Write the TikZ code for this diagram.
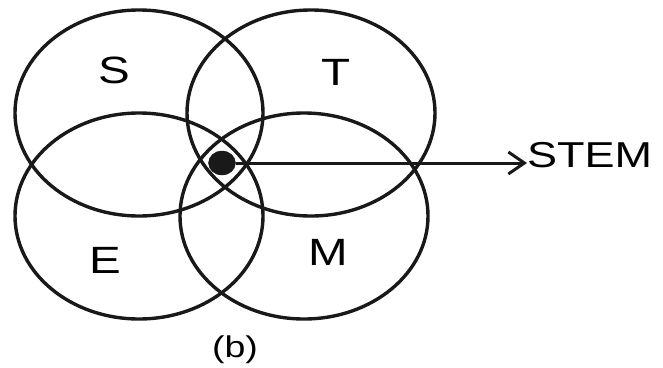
\documentclass[tikz,border=0pt]{standalone}
\usepackage{fontspec}
\setmainfont{Liberation Sans}
\usetikzlibrary{shapes.geometric,arrows.meta}
\tikzset{
  venn/.style={draw=black!90, line width=3.4pt, ellipse, minimum width=248pt, minimum height=206pt, inner sep=0pt},
  biglabel/.style={font=\fontsize{38}{38}\selectfont, inner sep=0pt},
  stemlabel/.style={font=\fontsize{36}{36}\selectfont, inner sep=0pt, anchor=west},
  caplabel/.style={font=\fontsize{30}{30}\selectfont, inner sep=0pt},
  core/.style={fill=black!90, draw=black!90, ellipse, minimum width=27pt, minimum height=24pt, inner sep=0pt},
  pointer/.style={line width=3pt, draw=black!90, -{Straight Barb[length=16pt,width=22pt,line width=3pt]}}
}
\begin{document}
\begin{tikzpicture}[x=1pt,y=-1pt]
\useasboundingbox (0,0) rectangle (663,367);
\node[venn] (S) at (139,113) {};
\node[venn] (T) at (311,113) {};
\node[venn] (E) at (139,216) {};
\node[venn] (M) at (304,216) {};
\node[biglabel] (Sl) at (114,70) {\scalebox{1.25}[1]{S}};
\node[biglabel] (Tl) at (336,72) {\scalebox{1.25}[1]{T}};
\node[biglabel] (El) at (105,260) {\scalebox{1.25}[1]{E}};
\node[biglabel] (Ml) at (328,252) {\scalebox{1.25}[1]{M}};
\node[core] (dot) at (222,163) {};
\node[stemlabel] (stem) at (527,155) {\scalebox{1.25}[1]{STEM}};
\draw[pointer] (dot.east) -- (dot.east -| stem.west);
\node[caplabel] (b) at (235,350) {\scalebox{1.25}[1]{(b)}};
\end{tikzpicture}
\end{document}
